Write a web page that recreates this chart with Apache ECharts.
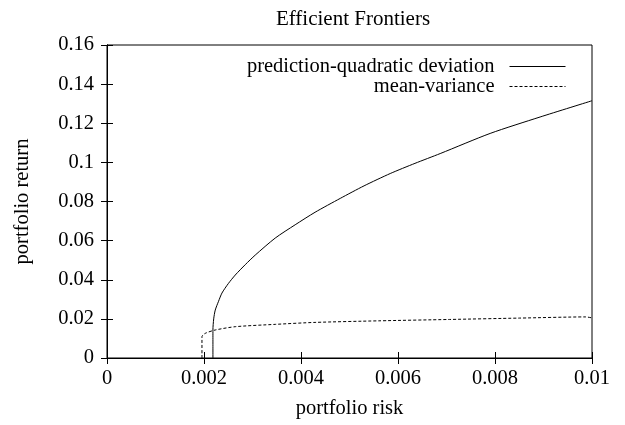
<!DOCTYPE html>
<html>
<head>
<meta charset="utf-8">
<script src="https://cdn.jsdelivr.net/npm/echarts@6/dist/echarts.min.js"></script>
<style>
  html, body { margin: 0; padding: 0; background: #fff; }
  #chart { width: 625px; height: 425px; }
</style>
</head>
<body>
<div id="chart"></div>
<script>
// prediction-quadratic deviation frontier
const pqdRisk   = [0.002184, 0.002184, 0.00220, 0.002232, 0.0023, 0.00237, 0.0025, 0.002644, 0.00285, 0.003056, 0.003468, 0.00388, 0.00429, 0.00481, 0.0053, 0.00584, 0.00635, 0.00687, 0.0079, 0.00893, 0.0100];
const pqdReturn = [0, 0.0143, 0.020, 0.0245, 0.029, 0.0332, 0.038, 0.0424, 0.0477, 0.0526, 0.0613, 0.0681, 0.0745, 0.0816, 0.088, 0.0943, 0.0995, 0.1045, 0.1148, 0.1232, 0.1315];

// mean-variance frontier
const mvRisk   = [0.001958, 0.001958, 0.002025, 0.00223, 0.002644, 0.00347, 0.00429, 0.0056, 0.00706, 0.0085, 0.00987, 0.0100];
const mvReturn = [0, 0.0109, 0.0126, 0.0143, 0.016, 0.0172, 0.0182, 0.019, 0.0197, 0.0204, 0.021, 0.0205];

const xTicks = [0, 0.002, 0.004, 0.006, 0.008, 0.01];
const yTicks = [0, 0.02, 0.04, 0.06, 0.08, 0.1, 0.12, 0.14, 0.16];

const font = 'Liberation Serif';
const fs = 20.5;
const chart = echarts.init(document.getElementById('chart'));

const pairs = (xs, ys) => xs.map((x, i) => [x, ys[i]]);

const baseAxis = {
  type: 'value',
  axisLine: { show: true, lineStyle: { color: '#000', width: 1 } },
  axisTick: { show: true, inside: true, length: 6, lineStyle: { color: '#000' } },
  splitLine: { show: false },
  axisLabel: { color: '#000', fontFamily: font, fontSize: fs }
};

// line sample only, hide the legend symbol
const legendBase = {
  right: 54, align: 'right',
  itemWidth: 56, itemHeight: 10,
  itemStyle: { opacity: 0 },
  lineStyle: { width: 1 },
  textStyle: { fontFamily: font, fontSize: fs, color: '#000', padding: [0, 10, 0, 0] }
};

chart.setOption({
  animation: false,
  backgroundColor: '#fff',
  title: {
    text: 'Efficient Frontiers',
    left: 348, top: 4, textAlign: 'center',
    textStyle: { fontFamily: font, fontSize: 21, fontWeight: 'normal', color: '#000' }
  },
  legend: [
    Object.assign({}, legendBase, { data: ['prediction-quadratic deviation'], top: 51 }),
    Object.assign({}, legendBase, { data: ['mean-variance'], top: 71 })
  ],
  grid: { left: 107, right: 33, top: 45, bottom: 67, show: true, borderColor: '#000', borderWidth: 1 },
  xAxis: [
    Object.assign({}, baseAxis, {
      min: 0, max: 0.01, interval: 0.002,
      name: 'portfolio risk', nameLocation: 'middle', nameGap: 40,
      nameTextStyle: { fontFamily: font, fontSize: fs, color: '#000' },
      axisLabel: Object.assign({}, baseAxis.axisLabel, {
        margin: 10,
        formatter: v => xTicks.includes(+v.toFixed(3)) ? String(+v.toFixed(3)) : ''
      })
    }),
    Object.assign({}, baseAxis, {
      position: 'top', min: 0, max: 0.01, interval: 0.002,
      axisLabel: { show: false }
    })
  ],
  yAxis: [
    Object.assign({}, baseAxis, {
      min: 0, max: 0.16, interval: 0.02,
      name: 'portfolio return', nameLocation: 'middle', nameGap: 74,
      nameTextStyle: { fontFamily: font, fontSize: fs, color: '#000' },
      axisLabel: Object.assign({}, baseAxis.axisLabel, {
        margin: 13,
        formatter: v => String(+v.toFixed(2))
      })
    }),
    Object.assign({}, baseAxis, {
      position: 'right', min: 0, max: 0.16, interval: 0.02,
      axisLabel: { show: false }
    })
  ],
  series: [
    {
      name: 'prediction-quadratic deviation',
      type: 'line',
      data: pairs(pqdRisk, pqdReturn),
      showSymbol: false, symbol: 'none',
      smooth: 0.25,
      lineStyle: { color: '#000', width: 1 },
      itemStyle: { color: '#000' }
    },
    {
      name: 'mean-variance',
      type: 'line',
      data: pairs(mvRisk, mvReturn),
      showSymbol: false, symbol: 'none',
      smooth: 0.25,
      lineStyle: { color: '#000', width: 1, type: [3, 2] },
      itemStyle: { color: '#000' }
    }
  ]
});
</script>
</body>
</html>
